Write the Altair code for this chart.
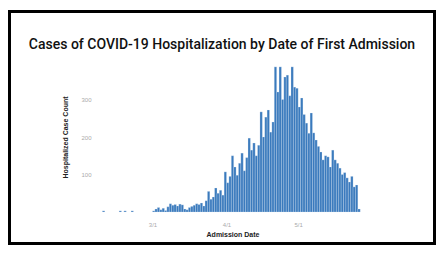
import altair as alt
import pandas as pd

# Daily hospitalized case counts, starting 2020-03-01
counts = [3, 8, 12, 6, 10, 4, 14, 22, 18, 20, 16, 21, 19, 8, 6, 12, 15, 18, 22, 20,
          24, 16, 30, 55, 34, 40, 64, 50, 58, 45, 107, 78, 95, 150, 120, 98, 130, 157, 110, 145,
          197, 165, 184, 150, 178, 267, 200, 253, 272, 213, 240, 387, 320, 387, 300, 360, 365, 310, 387, 333,
          330, 280, 304, 260, 237, 210, 264, 211, 192, 175, 160, 139, 150, 147, 120, 165, 139, 130, 117, 100,
          105, 91, 80, 95, 67, 72, 8]
start_date = "2020-03-01"

# Sporadic early admissions
early_dates = ["2020-02-09", "2020-02-16", "2020-02-18", "2020-02-21"]
early_counts = [3, 3, 3, 3]

title_text = "Cases of COVID-19 Hospitalization by Date of First Admission"
y_ticks = [100, 200, 300]
x_tick_dates = [(2020, 3, 1), (2020, 4, 1), (2020, 5, 1)]

all_dates = pd.to_datetime(early_dates + [d.strftime("%Y-%m-%d") for d in pd.date_range(start_date, periods=len(counts))])
df = pd.DataFrame({
    "date": all_dates.strftime("%Y-%m-%dT00:00:00Z"),
    "end": (all_dates + pd.Timedelta(days=1)).strftime("%Y-%m-%dT00:00:00Z"),
    "count": early_counts + counts,
})

bars = alt.Chart(df).mark_bar(color="#3a7abd", stroke="#e8eff8", strokeWidth=0.25).encode(
    x=alt.X("date:T",
            scale=alt.Scale(type="utc",
                            domain=[alt.DateTime(year=2020, month=2, date=8, utc=True),
                                    alt.DateTime(year=2020, month=5, date=29, utc=True)]),
            axis=alt.Axis(title="Admission Date",
                          values=[alt.DateTime(year=y, month=m, date=d, utc=True) for y, m, d in x_tick_dates],
                          labelExpr="utcFormat(datum.value, '%-m/%-d')",
                          grid=False, domain=False, ticks=False,
                          labelColor="#aaaaaa", labelFontSize=6, labelPadding=9,
                          titleFontSize=7, titleColor="#222222", titleFontWeight="bold",
                          titlePadding=3)),
    x2="end:T",
    y=alt.Y("count:Q",
            scale=alt.Scale(domain=[0, 400], nice=False),
            axis=alt.Axis(title="Hospitalized Case Count", values=y_ticks,
                          grid=False, domain=False, ticks=False,
                          labelColor="#aaaaaa", labelFontSize=6, labelPadding=9,
                          titleFontSize=7, titleColor="#222222", titleFontWeight="bold",
                          titlePadding=12)),
    y2=alt.datum(0),
)

frame = alt.Chart(alt.Data(values=[{}])).mark_rect(
    fill=None, stroke="black", strokeWidth=3
).encode(
    x=alt.value(-90.5), x2=alt.value(334.5), y=alt.value(-50.5), y2=alt.value(181.5)
)

title = alt.Chart(alt.Data(values=[{"t": title_text}])).mark_text(
    fontSize=14, font="Roboto", fontWeight=500, color="#111111",
    align="center", baseline="alphabetic"
).encode(
    text="t:N", x=alt.value(122), y=alt.value(-13)
)

chart = alt.layer(bars, frame, title).properties(
    width=265, height=150,
    autosize=alt.AutoSizeParams(type="none"),
    padding={"left": 92, "top": 54, "right": 71, "bottom": 33},
).configure(
    font="Liberation Sans", background="white", view=alt.ViewConfig(strokeWidth=0)
)

chart.save("out.html", embed_options={"renderer": "svg", "actions": False})
